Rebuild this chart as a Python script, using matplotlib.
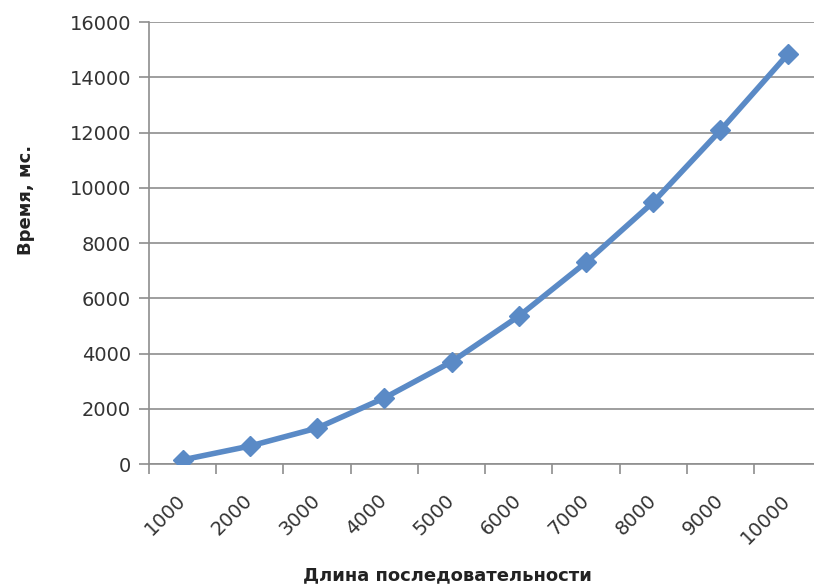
import matplotlib.pyplot as plt
import numpy as np
from matplotlib.ticker import FixedLocator

# sequence length vs. run time
lengths = ["1000", "2000", "3000", "4000", "5000",
           "6000", "7000", "8000", "9000", "10000"]
times_ms = [150, 650, 1300, 2390, 3700, 5350, 7300, 9480, 12080, 14830]

plt.rcParams['font.family'] = ['DejaVu Sans']

fig = plt.figure(figsize=(8.14, 5.87), dpi=100)
ax = fig.add_axes([0.183, 0.2095, 0.826, 0.753])

x = np.arange(len(lengths))
ax.plot(x, times_ms, color="#5a8ac6", lw=4, marker="D", ms=10.5,
        markeredgecolor="#5a8ac6", zorder=3)

ax.set_xlim(-0.5, len(lengths) - 0.5)
ax.set_ylim(0, 16000)
ax.set_yticks(np.arange(0, 16001, 2000))
ax.yaxis.grid(True, color="#8e8e8e", lw=1.2)
ax.set_axisbelow(True)

for side in ("top", "right"):
    ax.spines[side].set_visible(False)
for side in ("left", "bottom"):
    ax.spines[side].set_color("#8e8e8e")
    ax.spines[side].set_linewidth(1.2)

# labels at category centres, tick marks on the boundaries
ax.set_xticks(x)
ax.set_xticklabels(lengths, rotation=45, ha="right", va="center",
                   rotation_mode="anchor", fontsize=14, color="#333333")
ax.tick_params(axis="x", which="major", length=0, pad=24)
ax.xaxis.set_minor_locator(FixedLocator(np.arange(-0.5, len(lengths), 1.0)))
ax.tick_params(axis="x", which="minor", length=7, width=1.2, color="#8e8e8e")
ax.tick_params(axis="y", length=7, width=1.2, color="#8e8e8e",
               labelsize=14, labelcolor="#333333", pad=6)

fig.text(0.032, 0.66, "Время, мс.", rotation=90, ha="center", va="center",
         fontsize=13, fontweight="bold", color="#222222")
fig.text(0.55, 0.02, "Длина последовательности", ha="center", va="center",
         fontsize=13, fontweight="bold", color="#222222")

fig.savefig("out.png", dpi=100)
